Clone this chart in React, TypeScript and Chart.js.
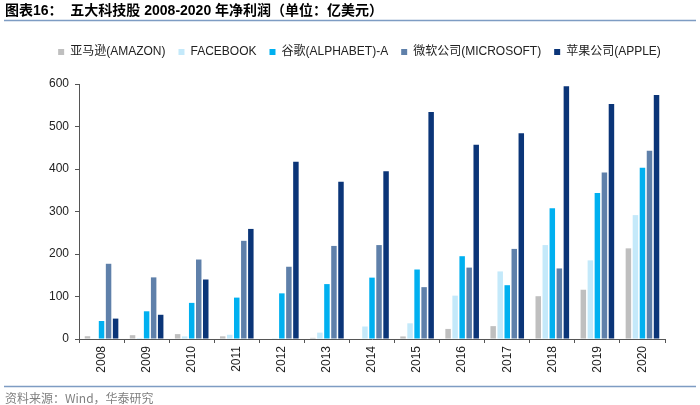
import React, { useEffect, useRef } from "react";
import { Chart, registerables } from "chart.js";

Chart.register(...registerables);

const years = ["2008", "2009", "2010", "2011", "2012", "2013", "2014", "2015", "2016", "2017", "2018", "2019", "2020"];
const amazon = [6.5, 9, 11.5, 6.3, -0.4, 2.7, -2.4, 6, 23.7, 30.3, 100.7, 115.9, 213.3];
const facebook = [0, 2.3, 6.1, 10, 0.5, 15, 29.4, 36.9, 102, 159, 221, 185, 291.5];
const alphabet = [42.3, 65.2, 85, 97.4, 107.4, 129.2, 144.4, 163.5, 194.8, 126.6, 307.4, 343.4, 402.7];
const microsoft = [177, 145, 187, 231, 170, 219, 221, 122, 168, 212, 166, 392, 443];
const apple = [48, 57, 140, 259, 417, 370, 395, 534, 457, 484, 595, 553, 574];
const seriesNames = ["亚马逊(AMAZON)", "FACEBOOK", "谷歌(ALPHABET)-A", "微软公司(MICROSOFT)", "苹果公司(APPLE)"];
const seriesColors = ["#BFBFBF", "#C4E9FA", "#00B0F0", "#5F80AA", "#0B3578"];
const yTicks = [0, 100, 200, 300, 400, 500, 600];

const titleText = "图表16：  五大科技股 2008-2020 年净利润（单位：亿美元）";
const sourceText = "资料来源：Wind，华泰研究";

const SANS = "'Liberation Sans', Arial, 'Noto Sans CJK SC', sans-serif";

const framePlugin = {
  id: "frame",
  beforeInit(chart: any) {
    const legend = chart.legend;
    if (legend) {
      const orig = legend.fit;
      legend.fit = function () {
        orig.call(this);
        this.height = 51;
      };
    }
  },
  afterLayout(chart: any) {
    const legend = chart.legend;
    if (legend) {
      legend.left = 29;
      legend.right = 690;
    }
  },
  afterDraw(chart: any) {
    const ctx = chart.ctx;
    ctx.save();
    ctx.fillStyle = "#000";
    ctx.font = "bold 14px 'Liberation Sans', 'Noto Sans CJK SC', sans-serif";
    ctx.textBaseline = "middle";
    ctx.textAlign = "left";
    ctx.fillText(titleText, 5, 11);
    ctx.strokeStyle = "#7E9CC3";
    ctx.lineWidth = 1.5;
    ctx.beginPath();
    ctx.moveTo(4, 20.5);
    ctx.lineTo(696, 20.5);
    ctx.stroke();
    ctx.beginPath();
    ctx.moveTo(4, 386.5);
    ctx.lineTo(696, 386.5);
    ctx.stroke();
    ctx.fillStyle = "#808080";
    ctx.font = "12px 'Noto Sans CJK SC', sans-serif";
    ctx.fillText(sourceText, 5, 398);
    ctx.restore();
  },
};

export default function App() {
  const ref = useRef<HTMLCanvasElement | null>(null);
  useEffect(() => {
    if (!ref.current) return;
    const all = [amazon, facebook, alphabet, microsoft, apple];
    const chart = new Chart(ref.current, {
      type: "bar",
      data: {
        labels: years,
        datasets: all.map((d, i) => ({
          label: seriesNames[i],
          data: d,
          backgroundColor: seriesColors[i],
          borderWidth: 0,
          categoryPercentage: 0.78,
          barPercentage: 0.78,
        })),
      },
      options: {
        animation: false,
        responsive: false,
        maintainAspectRatio: false,
        layout: { padding: { top: 33, left: 10, right: 35, bottom: 22 } },
        plugins: {
          legend: {
            position: "top",
            labels: {
              boxWidth: 6,
              boxHeight: 6,
              padding: 13,
              color: "#222",
              font: { family: SANS, size: 12 },
            },
          },
          tooltip: { enabled: false },
        },
        scales: {
          x: {
            offset: true,
            afterFit: (scale: any) => {
              scale.height = 44;
            },
            grid: {
              offset: true,
              drawOnChartArea: false,
              drawTicks: true,
              tickLength: 4,
              color: "#555",
            },
            border: { display: true, color: "#555", width: 1 },
            ticks: {
              minRotation: 90,
              maxRotation: 90,
              color: "#222",
              font: { family: SANS, size: 12 },
              padding: 3,
            },
          },
          y: {
            min: 0,
            max: 600,
            afterBuildTicks: (scale: any) => {
              scale.ticks = yTicks.map((v) => ({ value: v }));
            },
            afterFit: (scale: any) => {
              scale.width = 69;
            },
            grid: {
              drawOnChartArea: false,
              drawTicks: true,
              tickLength: 4,
              color: "#555",
            },
            border: { display: true, color: "#555", width: 1 },
            ticks: {
              color: "#222",
              font: { family: SANS, size: 12 },
              padding: 6,
            },
          },
        },
      },
      plugins: [framePlugin],
    });
    return () => chart.destroy();
  }, []);
  return (
    <div style={{ position: "fixed", left: 0, top: 0, width: 700, height: 405, background: "#fff" }}>
      <canvas ref={ref} width={700} height={405} style={{ width: 700, height: 405 }} />
    </div>
  );
}
